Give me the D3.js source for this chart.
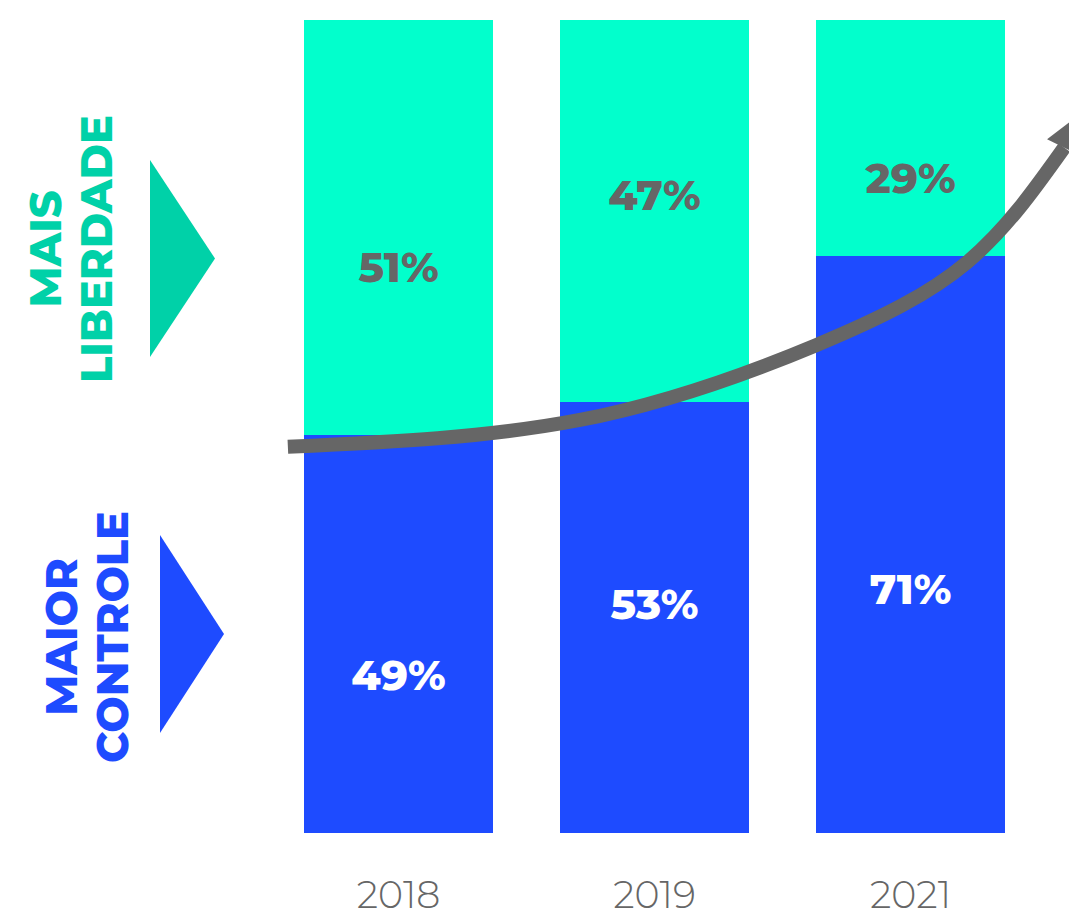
<!DOCTYPE html>
<html>
<head>
<meta charset="utf-8">
<script src="https://cdn.jsdelivr.net/npm/d3@7"></script>
<style>
  html, body { margin: 0; padding: 0; background: #ffffff; }
  svg { display: block; }
</style>
</head>
<body>
<svg id="chart" width="1069" height="917"></svg>
<script>
// --- data -------------------------------------------------------------
const years = ["2018", "2019", "2021"];
const maiorControle = [49, 53, 71];      // lower (blue) segment, %
const maisLiberdade = [51, 47, 29];      // upper (teal) segment, %

// vertical level (in %) where each value label sits inside its segment
const controleLabelLevel = [19.4, 28.2, 30.0];
const liberdadeLabelLevel = [69.6, 78.5, 80.6];

// trend arrow: position along the year axis (0 = first year, 2 = last) and level in %
const trendIndex = [-0.432, 0.709, 1.631, 2.221, 2.6];
const trendLevel = [47.5, 50.8, 60.0, 70.2, 84.3];

const legendLines = [["MAIS", "LIBERDADE"], ["MAIOR", "CONTROLE"]];

// --- style ------------------------------------------------------------
const BLUE = "#1e4bff";
const TEAL_BAR = "#02ffcc";
const TEAL_DARK = "#00d1a8";
const GREY = "#666666";
const FONT = "Montserrat, Lato, 'Open Sans', sans-serif";

const W = 1069, H = 917;
const svg = d3.select("#chart");
svg.append("rect").attr("width", W).attr("height", H).attr("fill", "#ffffff");

// --- scales -----------------------------------------------------------
const x = d3.scaleBand().domain(years).range([304, 1005]).paddingInner(0.262);
const y = d3.scaleLinear().domain([0, 100]).range([833, 20]);
const center = d => x(d) + x.bandwidth() / 2;
const xIdx = d3.scaleLinear().domain([0, years.length - 1])
  .range([center(years[0]), center(years[years.length - 1])]);

// --- stacked bars -----------------------------------------------------
const rows = years.map((yr, i) => ({ year: yr, controle: maiorControle[i], liberdade: maisLiberdade[i] }));
const stack = d3.stack().keys(["controle", "liberdade"])(rows);
const fills = { controle: BLUE, liberdade: TEAL_BAR };

svg.append("g").selectAll("g")
  .data(stack).join("g")
  .attr("fill", s => fills[s.key])
  .selectAll("rect")
  .data(s => s).join("rect")
  .attr("x", d => x(d.data.year))
  .attr("width", x.bandwidth())
  .attr("y", d => y(d[1]))
  .attr("height", d => y(d[0]) - y(d[1]))
  .attr("shape-rendering", "crispEdges");

// --- value labels -----------------------------------------------------
const labels = svg.append("g")
  .attr("font-family", FONT)
  .attr("font-weight", 800)
  .attr("font-size", 42)
  .attr("text-anchor", "middle");

labels.selectAll("text.lib")
  .data(rows).join("text").attr("class", "lib")
  .attr("x", d => center(d.year))
  .attr("y", (d, i) => y(liberdadeLabelLevel[i]))
  .attr("dy", "0.36em")
  .attr("fill", GREY)
  .text(d => d.liberdade + "%");

labels.selectAll("text.ctl")
  .data(rows).join("text").attr("class", "ctl")
  .attr("x", d => center(d.year))
  .attr("y", (d, i) => y(controleLabelLevel[i]))
  .attr("dy", "0.36em")
  .attr("fill", "#ffffff")
  .text(d => d.controle + "%");

// --- year axis --------------------------------------------------------
const axis = svg.append("g")
  .attr("transform", `translate(0,${y(0)})`)
  .call(d3.axisBottom(x).tickSize(0).tickPadding(48));
axis.select(".domain").remove();
axis.selectAll("text")
  .attr("font-family", FONT)
  .attr("font-weight", 300)
  .attr("font-size", 38)
  .attr("fill", GREY);

// --- trend arrow ------------------------------------------------------
const pts = trendIndex.map((t, i) => [xIdx(t), y(trendLevel[i])]);
const line = d3.line().curve(d3.curveNatural);
svg.append("path")
  .attr("d", line(pts))
  .attr("fill", "none")
  .attr("stroke", GREY)
  .attr("stroke-width", 14);

// arrow head oriented along the end of the curve
{
  const [px, py] = pts[pts.length - 2];
  const [ex, ey] = pts[pts.length - 1];
  let dx = ex - px, dy = ey - py;
  const len = Math.hypot(dx, dy);
  dx /= len; dy /= len;
  // the curve keeps bending upward past its last chord
  const a = Math.atan2(dy, dx) - 0.25;
  dx = Math.cos(a); dy = Math.sin(a);
  const half = 19, headLen = 38;
  const lx = ex + dy * half, ly = ey - dx * half;
  const rx = ex - dy * half, ry = ey + dx * half;
  const tx = ex + dx * headLen, ty = ey + dy * headLen;
  svg.append("path")
    .attr("d", `M${lx},${ly}L${tx},${ty}L${rx},${ry}Z`)
    .attr("fill", GREY);
}

// --- side legend: rotated captions with pointer triangles ------------
const legend = [
  { lines: legendLines[0], color: TEAL_DARK, mid: 249, base: 61, tri: { x0: 150, x1: 215, top: 160, bottom: 357 } },
  { lines: legendLines[1], color: BLUE, mid: 637, base: 77, tri: { x0: 160, x1: 224, top: 535, bottom: 733 } }
];

legend.forEach(g => {
  const t = svg.append("text")
    .attr("transform", `translate(0,${g.mid}) rotate(-90)`)
    .attr("font-family", FONT)
    .attr("font-weight", 800)
    .attr("font-size", 43)
    .attr("text-anchor", "middle")
    .attr("fill", g.color);
  g.lines.forEach((ln, i) => {
    t.append("tspan").attr("x", 0).attr("y", g.base + i * 51).text(ln);
  });
  const tr = g.tri;
  svg.append("path")
    .attr("d", `M${tr.x0},${tr.top}L${tr.x1},${(tr.top + tr.bottom) / 2}L${tr.x0},${tr.bottom}Z`)
    .attr("fill", g.color);
});
</script>
</body>
</html>
